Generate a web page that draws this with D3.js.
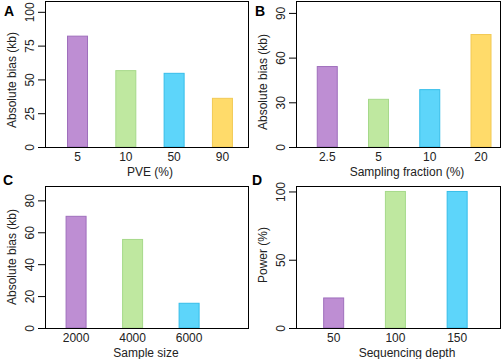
<!DOCTYPE html>
<html>
<head>
<meta charset="utf-8">
<script src="https://cdn.jsdelivr.net/npm/d3@7"></script>
<style>
  body { margin: 0; background: #fff; }
  svg { display: block; font-family: "Liberation Sans", Arial, sans-serif; }
</style>
</head>
<body>
<svg id="chart" width="502" height="359"></svg>
<script>
// panel data
var letters = ["A", "B", "C", "D"];
var xTitles = ["PVE (%)", "Sampling fraction (%)", "Sample size", "Sequencing depth"];
var yTitles = ["Absolute bias (kb)", "Absolute bias (kb)", "Absolute bias (kb)", "Power (%)"];

var catsA = ["5", "10", "50", "90"];
var valsA = [82, 56.5, 54.5, 36];
var ticksA = [0, 25, 50, 75, 100];

var catsB = ["2.5", "5", "10", "20"];
var valsB = [54, 32, 38.5, 75.5];
var ticksB = [0, 30, 60, 90];

var catsC = ["2000", "4000", "6000"];
var valsC = [70, 55.5, 15.5];
var ticksC = [0, 20, 40, 60, 80];

var catsD = ["50", "100", "150"];
var valsD = [22, 100, 100];
var ticksD = [0, 50, 100];

var fills = ["#BE8ED3", "#BFE8A0", "#5DD5FA", "#FFDB6A"];
var strokes = ["#9F6FBC", "#A6D98A", "#36BDE9", "#F2CA55"];

// layout of each panel box (pixels) and scale extents
var panels = [
  { cats: catsA, vals: valsA, ticks: ticksA, ymax: 108, xdom: [-0.673, 3.55],
    left: 45, right: 249, top: 1, bottom: 147, letterX: 4, letterY: 16, xtc: 150, ytc: 80 },
  { cats: catsB, vals: valsB, ticks: ticksB, ymax: 98, xdom: [-0.61, 3.39],
    left: 296, right: 501, top: 1, bottom: 147, letterX: 255, letterY: 16, xtc: 407, ytc: 82 },
  { cats: catsC, vals: valsC, ticks: ticksC, ymax: 89, xdom: [-0.55, 3.06],
    left: 45, right: 249, top: 186, bottom: 328, letterX: 3, letterY: 185, xtc: 146, ytc: 257 },
  { cats: catsD, vals: valsD, ticks: ticksD, ymax: 104, xdom: [-0.61, 2.71],
    left: 296, right: 501, top: 186, bottom: 328, letterX: 252, letterY: 185, xtc: 407, ytc: 255 }
];

var svg = d3.select("#chart");

panels.forEach(function (p, k) {
  var g = svg.append("g");
  var x = d3.scaleLinear().domain(p.xdom).range([p.left, p.right]);
  var y = d3.scaleLinear().domain([0, p.ymax]).range([p.bottom, p.top]);
  var half = 0.19 * (x(1) - x(0)) / (x(1) - x(0));
  var bw = 20;

  // bars
  g.selectAll("rect.bar")
    .data(p.vals)
    .enter().append("rect")
    .attr("class", "bar")
    .attr("x", function (d, i) { return x(i) - bw / 2; })
    .attr("y", function (d) { return y(d); })
    .attr("width", bw)
    .attr("height", function (d) { return y(0) - y(d); })
    .attr("fill", function (d, i) { return fills[i]; })
    .attr("stroke", function (d, i) { return strokes[i]; })
    .attr("stroke-width", 1);

  // y axis with rotated labels
  var yAxis = g.append("g")
    .attr("transform", "translate(" + p.left + ",0)")
    .call(d3.axisLeft(y).tickValues(p.ticks).tickSize(7).tickSizeOuter(0).tickPadding(4));
  yAxis.select(".domain").remove();
  yAxis.selectAll("line").attr("stroke", "#000");
  yAxis.selectAll("text")
    .attr("fill", "#222")
    .attr("font-size", 12)
    .attr("text-anchor", "middle")
    .attr("dy", 0)
    .attr("x", 0)
    .attr("transform", function () {
      return "translate(-11,0) rotate(-90)";
    });

  // x category labels
  g.selectAll("text.cat")
    .data(p.cats)
    .enter().append("text")
    .attr("class", "cat")
    .attr("x", function (d, i) { return x(i); })
    .attr("y", p.bottom + 13.5)
    .attr("text-anchor", "middle")
    .attr("font-size", 12)
    .attr("fill", "#222")
    .text(function (d) { return d; });

  // box
  g.append("rect")
    .attr("x", p.left + 0.5)
    .attr("y", p.top + 0.5)
    .attr("width", p.right - p.left - 1)
    .attr("height", p.bottom - p.top)
    .attr("fill", "none")
    .attr("stroke", "#000")
    .attr("stroke-width", 1);

  // titles
  g.append("text")
    .attr("x", p.xtc)
    .attr("y", p.bottom + 29)
    .attr("text-anchor", "middle")
    .attr("font-size", 12)
    .attr("fill", "#222")
    .text(xTitles[k]);

  g.append("text")
    .attr("transform", "translate(" + (p.left - 29) + "," + p.ytc + ") rotate(-90)")
    .attr("text-anchor", "middle")
    .attr("font-size", 12)
    .attr("fill", "#222")
    .text(yTitles[k]);

  g.append("text")
    .attr("x", p.letterX)
    .attr("y", p.letterY)
    .attr("font-size", 14)
    .attr("font-weight", "bold")
    .attr("fill", "#000")
    .text(letters[k]);
});
</script>
</body>
</html>
